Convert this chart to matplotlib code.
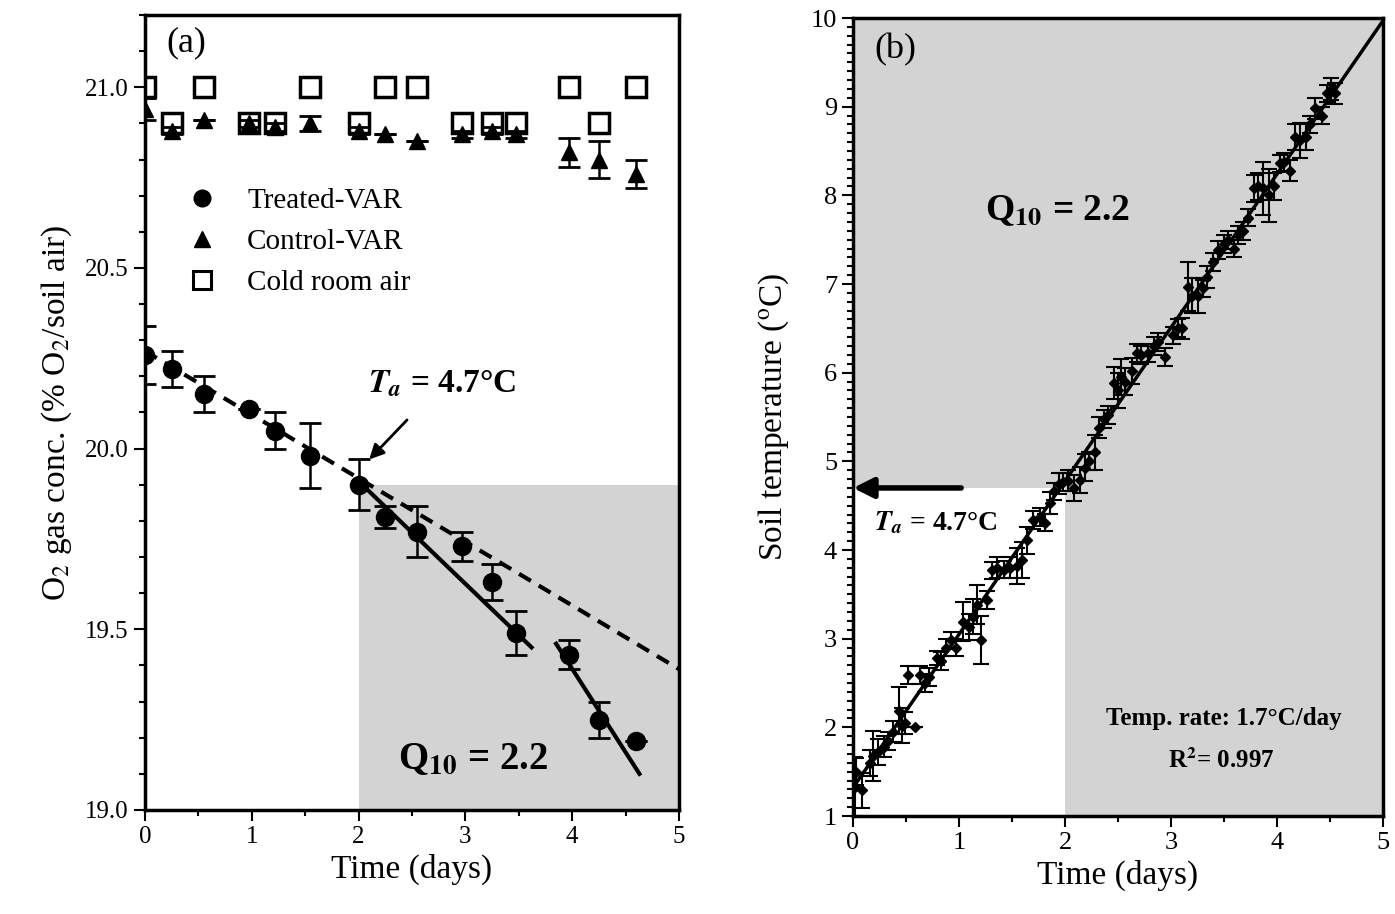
import matplotlib
matplotlib.use("Agg")
import matplotlib.pyplot as plt
from matplotlib.patches import Rectangle
from matplotlib.lines import Line2D
from matplotlib.ticker import MultipleLocator, FormatStrFormatter
import numpy as np

plt.rcParams['font.family'] = ['Liberation Serif', 'DejaVu Serif']
plt.rcParams['mathtext.fontset'] = 'stix'

# ---------------- Panel (a) data ----------------
time_a = [0.0, 0.25, 0.55, 0.97, 1.22, 1.55, 2.0, 2.25, 2.55, 2.97, 3.25, 3.47, 3.97, 4.25, 4.6]
treated = [20.26, 20.22, 20.15, 20.11, 20.05, 19.98, 19.90, 19.81, 19.77, 19.73, 19.63, 19.49, 19.43, 19.25, 19.19]
treated_err = [0.08, 0.05, 0.05, 0.0, 0.05, 0.09, 0.07, 0.03, 0.07, 0.04, 0.05, 0.06, 0.04, 0.05, 0.0]
control = [20.94, 20.88, 20.91, 20.90, 20.89, 20.90, 20.88, 20.87, 20.85, 20.87, 20.88, 20.87, 20.82, 20.80, 20.76]
control_err = [0.03, 0.01, 0.0, 0.01, 0.01, 0.02, 0.01, 0.0, 0.0, 0.01, 0.01, 0.01, 0.04, 0.05, 0.04]
cold_air = [21.0, 20.9, 21.0, 20.9, 20.9, 21.0, 20.9, 21.0, 21.0, 20.9, 20.9, 20.9, 21.0, 20.9, 21.0]
legend_labels = ['Treated-VAR', 'Control-VAR', 'Cold room air']

dashed_x = [0.0, 5.0]
dashed_y = [20.27, 19.39]
solid1_x = [2.0, 3.62]
solid1_y = [19.91, 19.45]
solid2_x = [3.85, 4.63]
solid2_y = [19.46, 19.10]
shade_a = [2.0, 5.0, 19.0, 19.9]  # x0, x1, y0, y1

# ---------------- Panel (b) data ----------------
time_b = [0.02, 0.03, 0.08, 0.16, 0.19, 0.24, 0.29, 0.33, 0.38, 0.43, 0.46, 0.49, 0.52, 0.58,
          0.63, 0.68, 0.72, 0.79, 0.83, 0.88, 0.92, 0.97, 1.04, 1.09, 1.13, 1.17, 1.21, 1.26,
          1.31, 1.36, 1.42, 1.48, 1.55, 1.59, 1.64, 1.70, 1.76, 1.81, 1.86, 1.90, 1.94, 1.98,
          2.03, 2.08, 2.14, 2.19, 2.23, 2.28, 2.32, 2.37, 2.41, 2.46, 2.50, 2.53, 2.57, 2.63,
          2.68, 2.72, 2.78, 2.84, 2.88, 2.94, 3.02, 3.07, 3.10, 3.16, 3.20, 3.25, 3.30, 3.34,
          3.40, 3.44, 3.50, 3.54, 3.59, 3.63, 3.68, 3.73, 3.78, 3.82, 3.87, 3.92, 3.97, 4.03,
          4.07, 4.12, 4.17, 4.22, 4.27, 4.31, 4.36, 4.42, 4.47, 4.51, 4.55]
temp_b = [1.33, 1.50, 1.29, 1.60, 1.68, 1.72, 1.78, 1.85, 1.95, 2.19, 2.02, 2.05, 2.59, 2.00,
          2.59, 2.50, 2.57, 2.78, 2.75, 2.90, 2.98, 2.90, 3.19, 3.13, 3.25, 3.38, 2.99, 3.44,
          3.77, 3.80, 3.78, 3.80, 3.82, 3.89, 4.11, 4.34, 4.37, 4.31, 4.53, 4.66, 4.75, 4.77,
          4.78, 4.70, 4.79, 4.93, 5.00, 5.10, 5.38, 5.48, 5.52, 5.88, 5.80, 5.95, 5.90, 6.02,
          6.22, 6.20, 6.22, 6.30, 6.35, 6.18, 6.42, 6.50, 6.50, 6.97, 6.87, 6.87, 6.95, 7.08,
          7.25, 7.38, 7.45, 7.50, 7.40, 7.55, 7.60, 7.75, 8.08, 8.10, 8.08, 8.00, 8.10, 8.36,
          8.38, 8.28, 8.66, 8.62, 8.66, 8.80, 8.98, 8.90, 9.15, 9.20, 9.15]
temp_err = [0.33, 0.15, 0.20, 0.15, 0.28, 0.15, 0.12, 0.10, 0.12, 0.27, 0.20, 0.12, 0.10, 0.0,
            0.10, 0.10, 0.10, 0.08, 0.10, 0.10, 0.10, 0.10, 0.22, 0.15, 0.20, 0.22, 0.27, 0.10,
            0.10, 0.12, 0.10, 0.12, 0.20, 0.20, 0.15, 0.10, 0.10, 0.10, 0.12, 0.10, 0.12, 0.10,
            0.12, 0.15, 0.15, 0.15, 0.10, 0.20, 0.12, 0.10, 0.10, 0.18, 0.20, 0.20, 0.15, 0.15,
            0.10, 0.10, 0.10, 0.10, 0.10, 0.10, 0.10, 0.10, 0.12, 0.28, 0.20, 0.20, 0.10, 0.12,
            0.10, 0.10, 0.10, 0.10, 0.10, 0.10, 0.10, 0.10, 0.15, 0.15, 0.30, 0.30, 0.15, 0.10,
            0.10, 0.12, 0.15, 0.20, 0.15, 0.10, 0.12, 0.10, 0.10, 0.12, 0.12]
fit_b = [1.32, 1.73]  # intercept, slope (°C/day)
Ta = 4.7
shade_b_x = 2.0

GRAY = '#d3d3d3'

fig = plt.figure(figsize=(13.95, 9.14), dpi=100)
axa = fig.add_axes([0.1039, 0.1138, 0.3828, 0.8698])
axb = fig.add_axes([0.6115, 0.1072, 0.3799, 0.8731])

# ---------------- Panel (a) ----------------
axa.add_patch(Rectangle((shade_a[0], shade_a[2]), shade_a[1] - shade_a[0], shade_a[3] - shade_a[2],
                        facecolor=GRAY, edgecolor='none', zorder=0))
axa.plot(dashed_x, dashed_y, color='black', lw=3, dashes=(3.3, 2.2), zorder=2)
axa.plot(solid1_x, solid1_y, color='black', lw=3, zorder=2)
axa.plot(solid2_x, solid2_y, color='black', lw=3, zorder=2)

axa.errorbar(time_a, treated, yerr=treated_err, fmt='o', color='black', ms=13,
             capsize=8, elinewidth=1.8, capthick=2, zorder=3)
axa.errorbar(time_a, control, yerr=control_err, fmt='^', color='black', ms=12,
             capsize=8, elinewidth=1.8, capthick=2, zorder=3)
axa.plot(time_a, cold_air, 's', ms=15, mfc='none', mec='black', mew=2.5,
         zorder=3, linestyle='none')

axa.set_xlim(0, 5)
axa.set_ylim(19.0, 21.2)
axa.xaxis.set_major_locator(MultipleLocator(1))
axa.xaxis.set_minor_locator(MultipleLocator(0.5))
axa.yaxis.set_major_locator(MultipleLocator(0.5))
axa.yaxis.set_minor_locator(MultipleLocator(0.1))
axa.yaxis.set_major_formatter(FormatStrFormatter('%.1f'))
axa.tick_params(which='both', direction='out', width=1.5, labelsize=18, top=False, right=False)
axa.tick_params(which='major', length=8)
axa.tick_params(which='minor', length=4)
for s in axa.spines.values():
    s.set_linewidth(2.5)

axa.set_xlabel('Time (days)', fontsize=24, labelpad=4)
axa.set_ylabel('O$_2$ gas conc. (% O$_2$/soil air)', fontsize=24, labelpad=8)

axa.text(0.04, 0.965, '(a)', transform=axa.transAxes, fontsize=26, va='center', ha='left')
axa.text(3.07, 19.14, r'Q$_{\mathbf{10}}$ = 2.2', fontsize=28, fontweight='bold', ha='center', va='center')
axa.annotate(r'$\mathbfit{T_a}$ = 4.7°C', xy=(2.1, 19.97), xytext=(2.78, 20.18),
             fontsize=24, fontweight='bold', ha='center', va='center',
             arrowprops=dict(arrowstyle='-|>', color='black', lw=2, mutation_scale=22,
                             shrinkA=18, shrinkB=0))

handles = [Line2D([], [], marker='o', color='black', ls='none', ms=12),
           Line2D([], [], marker='^', color='black', ls='none', ms=11),
           Line2D([], [], marker='s', mfc='none', mec='black', mew=2.2, ls='none', ms=13)]
axa.legend(handles, legend_labels, loc='upper left', bbox_to_anchor=(0.055, 0.797), frameon=False,
           fontsize=21, handletextpad=1.0, labelspacing=0.5, borderaxespad=0, handlelength=1.1)

# ---------------- Panel (b) ----------------
axb.set_facecolor(GRAY)
axb.add_patch(Rectangle((0, 1), shade_b_x, Ta - 1, facecolor='white', edgecolor='none', zorder=0))
xf = np.array([0.0, 5.0])
axb.plot(xf, fit_b[0] + fit_b[1] * xf, color='black', lw=2.5, zorder=2)
axb.errorbar(time_b, temp_b, yerr=temp_err, fmt='D', color='black', ms=5,
             capsize=6, elinewidth=1.5, capthick=1.5, zorder=3)

axb.set_xlim(0, 5)
axb.set_ylim(1, 10)
axb.xaxis.set_major_locator(MultipleLocator(1))
axb.xaxis.set_minor_locator(MultipleLocator(0.5))
axb.yaxis.set_major_locator(MultipleLocator(1))
axb.yaxis.set_minor_locator(MultipleLocator(0.1))
axb.tick_params(which='both', direction='out', width=1.5, labelsize=19, top=False, right=False)
axb.tick_params(which='major', length=8)
axb.tick_params(which='minor', length=4)
for s in axb.spines.values():
    s.set_linewidth(2.5)

axb.set_xlabel('Time (days)', fontsize=24, labelpad=4)
axb.set_ylabel(r'Soil temperature ($^{\mathrm{o}}$C)', fontsize=24, labelpad=14)

axb.text(0.04, 0.96, '(b)', transform=axb.transAxes, fontsize=26, va='center', ha='left')
axb.text(1.93, 7.83, r'Q$_{\mathbf{10}}$ = 2.2', fontsize=27, fontweight='bold', ha='center', va='center')
axb.annotate('', xy=(0.0, Ta), xytext=(1.02, Ta),
             arrowprops=dict(arrowstyle='-|>', color='black', lw=4, mutation_scale=30,
                             shrinkA=0, shrinkB=0))
axb.text(0.78, 4.31, r'$\mathbfit{T_a}$ = 4.7°C', fontsize=20, fontweight='bold', ha='center', va='center')
axb.text(3.5, 2.1, 'Temp. rate: 1.7°C/day', fontsize=18, fontweight='bold', ha='center', va='center')
axb.text(3.47, 1.63, r'R$^{\mathbf{2}}$= 0.997', fontsize=18, fontweight='bold', ha='center', va='center')

fig.savefig('out.png', dpi=100)
